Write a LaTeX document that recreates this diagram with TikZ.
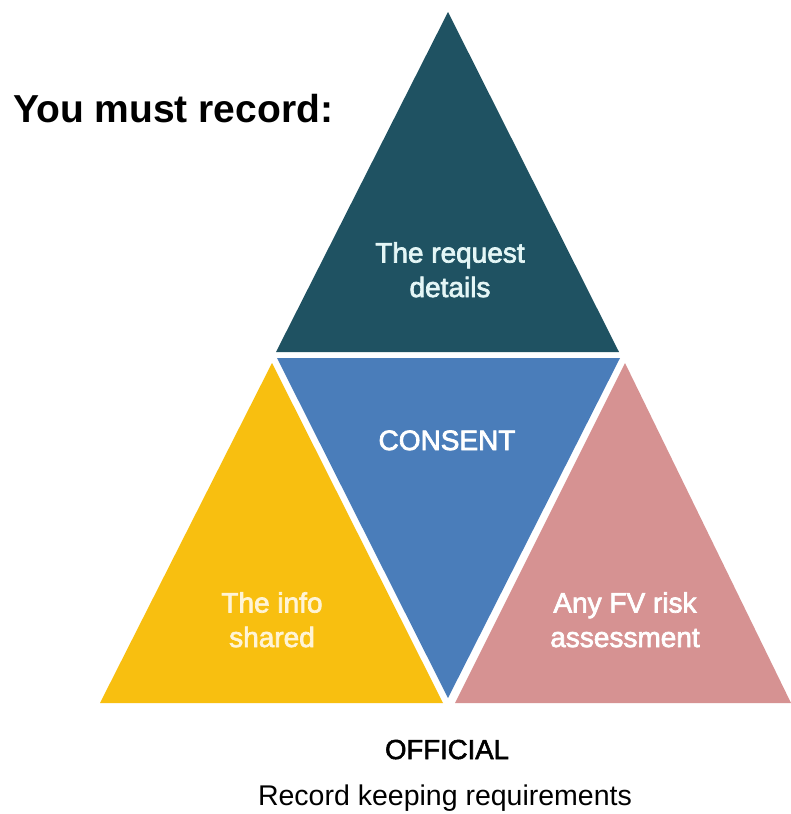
\documentclass[tikz,border=0pt]{standalone}
\usepackage{fontspec}
\setmainfont{Liberation Sans}
\newfontfamily\medfont[FakeBold=2.5]{Liberation Sans}
\newfontfamily\semifont[FakeBold=2]{Liberation Sans}
\definecolor{teal}{HTML}{1F5262}
\definecolor{consentblue}{HTML}{4A7DBA}
\definecolor{gold}{HTML}{F8BF10}
\definecolor{rose}{HTML}{D69292}
\definecolor{tealtext}{HTML}{E4F6F6}
\definecolor{goldtext}{HTML}{FFF4D6}
\begin{document}
\begin{tikzpicture}[x=1pt,y=-1pt,
  lbl/.style={align=center,anchor=base,font=\medfont\fontsize{28}{34.5}\selectfont,inner sep=0pt}]
\useasboundingbox (0,0) rectangle (791,814);
\fill[white] (0,0) rectangle (791,814);
% triangles
\fill[teal] (448,12) -- (619,352) -- (276,352) -- cycle;
\fill[consentblue] (277,358) -- (620,358) -- (448,698) -- cycle;
\fill[gold] (272,363) -- (443,703) -- (100,703) -- cycle;
\fill[rose] (625,363) -- (791,703) -- (455,703) -- cycle;
% labels (base anchor = baseline of the last line)
\node[lbl,text=tealtext] (req) at (450,297) {The request\\details};
\node[lbl,text=white] (consent) at (447,450) {CONSENT};
\node[lbl,text=goldtext] (info) at (272,647) {The info\\shared};
\node[lbl,text=white] (fv) at (625,647) {Any FV risk\\assessment};
\node[anchor=base west,inner sep=0pt,font=\bfseries\fontsize{39}{44}\selectfont] (title) at (13,122) {You must record:};
\node[anchor=base,inner sep=0pt,font=\semifont\fontsize{27.5}{30}\selectfont] (official) at (447,759) {OFFICIAL};
\node[anchor=base,inner sep=0pt,font=\fontsize{28.5}{34}\selectfont] (caption) at (445,805) {Record keeping requirements};
\end{tikzpicture}
\end{document}
